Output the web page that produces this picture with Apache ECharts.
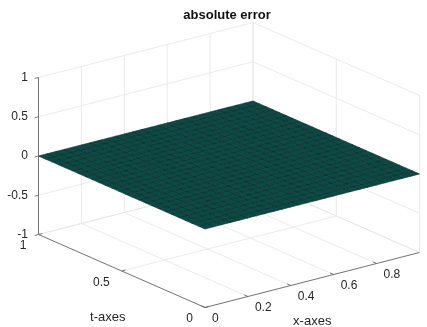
<!DOCTYPE html>
<html><head><meta charset="utf-8">
<script src="https://cdn.jsdelivr.net/npm/echarts@6.0.0/dist/echarts.min.js"></script>
<style>html,body{margin:0;padding:0;background:#fff}#c{width:427px;height:327px}</style>
</head><body><div id="c"></div>
<script>
// ---- data ----
const chartTitle = 'absolute error';
const xAxisName = 'x-axes';
const tAxisName = 't-axes';
const xTicks = [0, 0.2, 0.4, 0.6, 0.8];
const tTicks = [0, 0.5, 1];
const zTicks = [-1, -0.5, 0, 0.5, 1];
const xRange = [0, 1];
const tRange = [0, 1];
const zRange = [-1, 1];
const xMesh = [0,0.04,0.08,0.12,0.16,0.2,0.24,0.28,0.32,0.36,0.4,0.44,0.48,0.52,0.56,0.6,0.64,0.68,0.72,0.76,0.8,0.84,0.88,0.92,0.96,1];
const tMesh = [0,0.04,0.08,0.12,0.16,0.2,0.24,0.28,0.32,0.36,0.4,0.44,0.48,0.52,0.56,0.6,0.64,0.68,0.72,0.76,0.8,0.84,0.88,0.92,0.96,1];
const absError = [
[0,0,0,0,0,0,0,0,0,0,0,0,0,0,0,0,0,0,0,0,0,0,0,0,0,0],
[0,0,0,0,0,0,0,0,0,0,0,0,0,0,0,0,0,0,0,0,0,0,0,0,0,0],
[0,0,0,0,0,0,0,0,0,0,0,0,0,0,0,0,0,0,0,0,0,0,0,0,0,0],
[0,0,0,0,0,0,0,0,0,0,0,0,0,0,0,0,0,0,0,0,0,0,0,0,0,0],
[0,0,0,0,0,0,0,0,0,0,0,0,0,0,0,0,0,0,0,0,0,0,0,0,0,0],
[0,0,0,0,0,0,0,0,0,0,0,0,0,0,0,0,0,0,0,0,0,0,0,0,0,0],
[0,0,0,0,0,0,0,0,0,0,0,0,0,0,0,0,0,0,0,0,0,0,0,0,0,0],
[0,0,0,0,0,0,0,0,0,0,0,0,0,0,0,0,0,0,0,0,0,0,0,0,0,0],
[0,0,0,0,0,0,0,0,0,0,0,0,0,0,0,0,0,0,0,0,0,0,0,0,0,0],
[0,0,0,0,0,0,0,0,0,0,0,0,0,0,0,0,0,0,0,0,0,0,0,0,0,0],
[0,0,0,0,0,0,0,0,0,0,0,0,0,0,0,0,0,0,0,0,0,0,0,0,0,0],
[0,0,0,0,0,0,0,0,0,0,0,0,0,0,0,0,0,0,0,0,0,0,0,0,0,0],
[0,0,0,0,0,0,0,0,0,0,0,0,0,0,0,0,0,0,0,0,0,0,0,0,0,0],
[0,0,0,0,0,0,0,0,0,0,0,0,0,0,0,0,0,0,0,0,0,0,0,0,0,0],
[0,0,0,0,0,0,0,0,0,0,0,0,0,0,0,0,0,0,0,0,0,0,0,0,0,0],
[0,0,0,0,0,0,0,0,0,0,0,0,0,0,0,0,0,0,0,0,0,0,0,0,0,0],
[0,0,0,0,0,0,0,0,0,0,0,0,0,0,0,0,0,0,0,0,0,0,0,0,0,0],
[0,0,0,0,0,0,0,0,0,0,0,0,0,0,0,0,0,0,0,0,0,0,0,0,0,0],
[0,0,0,0,0,0,0,0,0,0,0,0,0,0,0,0,0,0,0,0,0,0,0,0,0,0],
[0,0,0,0,0,0,0,0,0,0,0,0,0,0,0,0,0,0,0,0,0,0,0,0,0,0],
[0,0,0,0,0,0,0,0,0,0,0,0,0,0,0,0,0,0,0,0,0,0,0,0,0,0],
[0,0,0,0,0,0,0,0,0,0,0,0,0,0,0,0,0,0,0,0,0,0,0,0,0,0],
[0,0,0,0,0,0,0,0,0,0,0,0,0,0,0,0,0,0,0,0,0,0,0,0,0,0],
[0,0,0,0,0,0,0,0,0,0,0,0,0,0,0,0,0,0,0,0,0,0,0,0,0,0],
[0,0,0,0,0,0,0,0,0,0,0,0,0,0,0,0,0,0,0,0,0,0,0,0,0,0],
[0,0,0,0,0,0,0,0,0,0,0,0,0,0,0,0,0,0,0,0,0,0,0,0,0,0]
];

// ---- 3D view (layout only) ----
const ORIGIN = [205, 307.5];   // screen pos of (xMin, tMin, zMin)
const EX = [214.5, -55];        // screen vector spanning full x range
const ET = [-166.5, -73];       // screen vector spanning full t range
const EZ = [0, -157];           // screen vector spanning full z range
function proj(x, t, z) {
  const u = (x - xRange[0]) / (xRange[1] - xRange[0]);
  const v = (t - tRange[0]) / (tRange[1] - tRange[0]);
  const w = (z - zRange[0]) / (zRange[1] - zRange[0]);
  return [ORIGIN[0] + u * EX[0] + v * ET[0] + w * EZ[0],
          ORIGIN[1] + u * EX[1] + v * ET[1] + w * EZ[1]];
}
const [x0, x1] = xRange, [t0, t1] = tRange, [z0, z1] = zRange;

// grid segments on back planes
const gridSegs = [];
const xLines = xTicks.concat([x1]);
const tLines = tTicks;
xLines.forEach(x => {
  gridSegs.push([x, t1, z0, x, t1, z1]);   // back wall t = tMax
  gridSegs.push([x, t0, z0, x, t1, z0]);   // floor
});
tLines.forEach(t => {
  gridSegs.push([x1, t, z0, x1, t, z1]);   // side wall x = xMax
  gridSegs.push([x0, t, z0, x1, t, z0]);   // floor
});
zTicks.forEach(z => {
  gridSegs.push([x0, t1, z, x1, t1, z]);
  gridSegs.push([x1, t0, z, x1, t1, z]);
});

// axis lines and ticks
const axisSegs = [
  [x0, t1, z0, x0, t1, z1],
  [x0, t0, z0, x0, t1, z0],
  [x0, t0, z0, x1, t0, z0]
];
zTicks.forEach(z => axisSegs.push([x0, t1, z, x0 - 0.018, t1, z]));
tTicks.forEach(t => axisSegs.push([x0, t, z0, x0 + 0.018, t, z0]));
xTicks.forEach(x => axisSegs.push([x, t0, z0, x, t0 + 0.022, z0]));

// surface cells
const cells = [];
for (let j = 0; j < tMesh.length - 1; j++) {
  for (let i = 0; i < xMesh.length - 1; i++) {
    cells.push([xMesh[i], tMesh[j], xMesh[i + 1], tMesh[j + 1],
      absError[j][i], absError[j][i + 1], absError[j + 1][i + 1], absError[j + 1][i]]);
  }
}

// labels
const labels = [];
const labelPos = [];
zTicks.forEach(z => { labels.push({text: String(z), dx: -10.5, dy: 0, align: 'right', size: 12}); labelPos.push([x0, t1, z]); });
tTicks.forEach(t => { labels.push({text: String(t), dx: -12, dy: 11.5, align: 'right', size: 12}); labelPos.push([x0, t, z0]); });
xTicks.forEach(x => { labels.push({text: String(x), dx: 7, dy: 11, align: 'left', size: 12}); labelPos.push([x, t0, z0]); });
labels.push({text: tAxisName, dx: -14, dy: 46, align: 'center', size: 13}); labelPos.push([x0, (t0 + t1) / 2, z0]);
labels.push({text: xAxisName, dx: 0, dy: 41, align: 'center', size: 13}); labelPos.push([(x0 + x1) / 2, t0, z0]);

const FONT = '"Liberation Sans", Arial, sans-serif';

function segRenderer(color, width) {
  return function (params, api) {
    const a = api.coord(proj(api.value(0), api.value(1), api.value(2)));
    const b = api.coord(proj(api.value(3), api.value(4), api.value(5)));
    return {type: 'line', shape: {x1: a[0], y1: a[1], x2: b[0], y2: b[1]},
      style: {stroke: color, lineWidth: width}};
  };
}

const chart = echarts.init(document.getElementById('c'), null, {renderer: 'canvas'});
chart.setOption({
  animation: false,
  grid: {left: 0, right: 0, top: 0, bottom: 0},
  xAxis: {type: 'value', min: 0, max: 427, show: false},
  yAxis: {type: 'value', min: 0, max: 327, inverse: true, show: false},
  graphic: [{type: 'text', x: 227, y: 15, style: {text: chartTitle, align: 'center', verticalAlign: 'middle',
    font: 'bold 13px ' + FONT, fill: '#111'}}],
  series: [
    {type: 'custom', data: gridSegs, renderItem: segRenderer('#e6e6e6', 0.8), silent: true, z: 1},
    {type: 'custom', data: cells, silent: true, z: 2,
      renderItem: function (params, api) {
        const xa = api.value(0), ta = api.value(1), xb = api.value(2), tb = api.value(3);
        const pts = [
          api.coord(proj(xa, ta, api.value(4))),
          api.coord(proj(xb, ta, api.value(5))),
          api.coord(proj(xb, tb, api.value(6))),
          api.coord(proj(xa, tb, api.value(7)))
        ];
        return {type: 'polygon', shape: {points: pts},
          style: {fill: '#0e4a45', stroke: '#072d2a', lineWidth: 0.6}};
      }},
    {type: 'custom', data: axisSegs, renderItem: segRenderer('#5a5a5a', 0.8), silent: true, z: 3},
    {type: 'custom', data: labelPos, silent: true, z: 4,
      renderItem: function (params, api) {
        const L = labels[params.dataIndex];
        const p = api.coord(proj(api.value(0), api.value(1), api.value(2)));
        return {type: 'text', x: p[0] + L.dx, y: p[1] + L.dy,
          style: {text: L.text, align: L.align, verticalAlign: 'middle', textAlign: L.align, textVerticalAlign: 'middle',
            font: L.size + 'px ' + FONT, fill: '#262626'}};
      }}
  ]
});
</script></body></html>
